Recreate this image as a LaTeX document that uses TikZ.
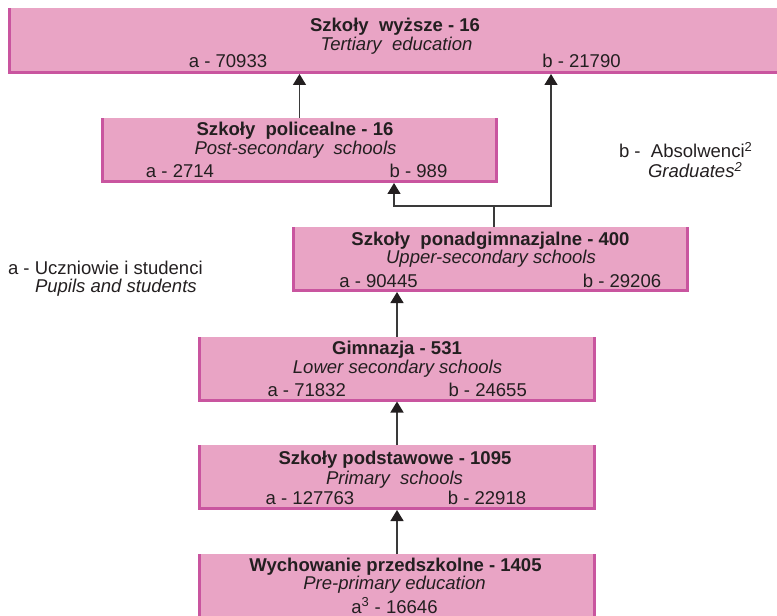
\documentclass[tikz,border=0pt]{standalone}
\usepackage{fontspec}
\setmainfont{Liberation Sans}
\usetikzlibrary{arrows.meta}
\definecolor{boxfill}{HTML}{E9A4C5}
\definecolor{boxedge}{HTML}{C9559F}
\definecolor{ink}{HTML}{231F20}
\definecolor{lineink}{HTML}{3A3A3A}
\newcommand{\fsz}{\fontsize{13.9}{16}\selectfont}
\begin{document}
\begin{tikzpicture}[x=0.75pt, y=-0.75pt, font=\fsz, text=ink,
 pbox/.style={rectangle, fill=boxfill, inner sep=0pt, outer sep=0pt,
   path picture={
     \fill[boxedge] (path picture bounding box.south west) rectangle ([xshift=2.25pt]path picture bounding box.north west);
     \fill[boxedge] (path picture bounding box.south east) rectangle ([xshift=-2.25pt]path picture bounding box.north east);
     \fill[boxedge] (path picture bounding box.south west) rectangle ([yshift=2.25pt]path picture bounding box.south east);
   }},
 txt/.style={anchor=base, inner sep=0pt, outer sep=0pt},
 txtl/.style={anchor=base west, inner sep=0pt, outer sep=0pt},
 ital/.style={font=\fsz\itshape},
 bold/.style={font=\fsz\bfseries},
 conn/.style={draw=lineink, line width=1pt},
 arr/.style={conn, -{Triangle[width=9.75pt, length=8.25pt, fill=ink, color=ink]}},
]
\useasboundingbox (0,0) rectangle (777,616);

% boxes
\node[pbox, minimum width=579pt, minimum height=49.5pt] (top) at (394,41) {};
\node[pbox, minimum width=297.75pt, minimum height=48.75pt] (poli) at (299.5,150.5) {};
\node[pbox, minimum width=297.75pt, minimum height=48.75pt] (ponad) at (490.5,259.5) {};
\node[pbox, minimum width=298.5pt, minimum height=48.75pt] (gimn) at (397,369) {};
\node[pbox, minimum width=298.5pt, minimum height=48.75pt] (podst) at (397,477.5) {};
\node[pbox, minimum width=298.5pt, minimum height=49.5pt] (przed) at (397,587) {};

% texts: tertiary
\node[txt, bold] (topT) at (395,32) {Szkoły~~wyższe - 16};
\node[txt, ital] (topE) at (396.5,51) {Tertiary~~education};
\node[txt] (topA) at (228,68) {a - 70933};
\node[txt] (topB) at (581.5,68) {b - 21790};

% post-secondary
\node[txt, bold] (poliT) at (295,136) {Szkoły~~policealne - 16};
\node[txt, ital] (poliE) at (295.5,155) {Post-secondary~~schools};
\node[txt] (poliA) at (180,178) {a - 2714};
\node[txt] (poliB) at (418.5,178) {b - 989};

% upper-secondary
\node[txt, bold] (ponadT) at (490.5,246) {Szkoły~~ponadgimnazjalne - 400};
\node[txt, ital] (ponadE) at (491,264) {Upper-secondary schools};
\node[txt] (ponadA) at (378.5,287) {a - 90445};
\node[txt] (ponadB) at (622,287) {b - 29206};

% lower secondary
\node[txt, bold] (gimnT) at (397,354) {Gimnazja - 531};
\node[txt, ital] (gimnE) at (397.5,373) {Lower secondary schools};
\node[txt] (gimnA) at (306.7,396) {a - 71832};
\node[txt] (gimnB) at (487.7,396) {b - 24655};

% primary
\node[txt, bold] (podstT) at (395,464) {Szkoły podstawowe - 1095};
\node[txt, ital] (podstE) at (394.5,484) {Primary~~schools};
\node[txt] (podstA) at (310,504) {a - 127763};
\node[txt] (podstB) at (487,504) {b - 22918};

% pre-primary
\node[txt, bold] (przedT) at (395.5,571.5) {Wychowanie przedszkolne - 1405};
\node[txt, ital] (przedE) at (394.5,589) {Pre-primary education};
\node[txt] (przedA) at (394.5,613) {a\textsuperscript{3} - 16646};

% legends
\node[txtl] (legA) at (8,275) {a - Uczniowie i studenci};
\node[txtl, ital] (legAE) at (35,292) {Pupils and students};
\node[txtl] (legB) at (619,158) {b -~~Absolwenci\textsuperscript{2}};
\node[txtl, ital] (legBE) at (648,178) {Graduates\textsuperscript{2}};

% connectors
\coordinate (j) at (494,206);
\coordinate (jl) at (394,206);
\coordinate (jr) at (551,206);
\draw[arr] (poli.north) -- (poli.north |- top.south);
\draw[conn] (j |- ponad.north) -- (j);
\draw[arr] (j) -- (jl) -- (jl |- poli.south);
\draw[arr] (j) -- (jr) -- (jr |- top.south);
\draw[arr] (gimn.north) -- (gimn.north |- ponad.south);
\draw[arr] (podst.north) -- (gimn.south);
\draw[arr] (przed.north) -- (podst.south);
\end{tikzpicture}
\end{document}
